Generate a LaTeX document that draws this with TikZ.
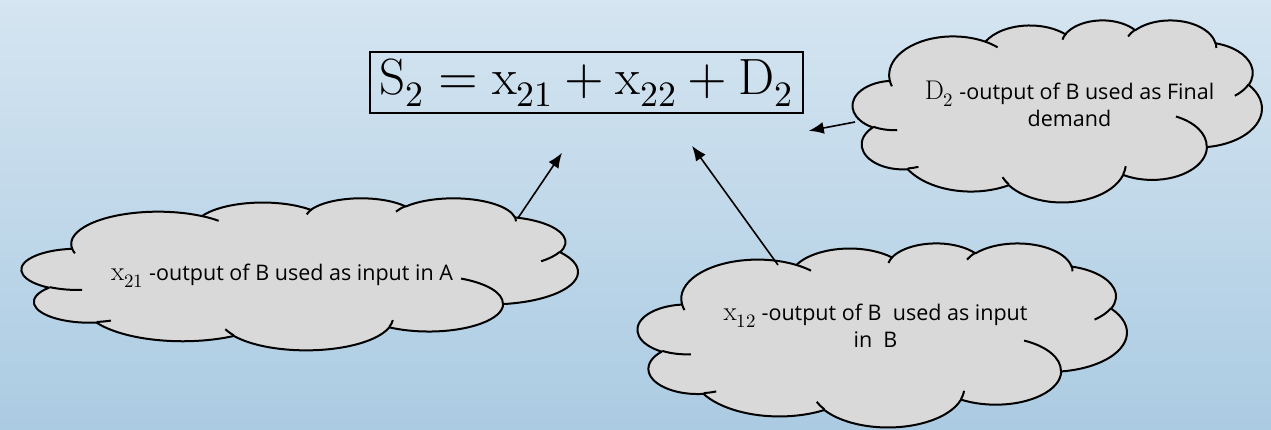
\documentclass[tikz,border=0pt]{standalone}
\usepackage{fontspec}
\usepackage{unicode-math}
\setmathfont{Latin Modern Math}
\newfontfamily\cloudfont{Open Sans}
\usetikzlibrary{calc,arrows.meta}

\definecolor{bgtop}{HTML}{D5E5F1}
\definecolor{bgbot}{HTML}{ABCBE2}
\definecolor{cloudgray}{HTML}{D9D9D9}

% upright math, set a bit larger than the sans text
\newcommand\cmath[1]{{\fontsize{27}{28}\selectfont$#1$}}

% cloud outline: angles on the ellipse as seen from its centre -> parameter angles
\pgfmathdeclarefunction{vispar}{3}{\pgfmathparse{atan2((#1)*sin(#3),(#2)*cos(#3))}}
\pgfmathdeclarefunction{parsweep}{4}{%
  \pgfmathparse{#4+mod(vispar(#1,#2,#3+#4)-vispar(#1,#2,#3)-#4+1260,360)-180}}

\begin{document}
\begin{tikzpicture}[x=1pt,y=1pt,
  cloudbox/.style={rectangle, inner sep=0pt},
  cloudline/.style={line width=2pt, line join=round},
  cloudtext/.style={font=\cloudfont\fontsize{21.5}{27}\selectfont, align=center, inner sep=0pt},
  pointer/.style={-{Latex[length=15pt,width=12pt]}, line width=1.6pt}]
\shade[top color=bgtop, bottom color=bgbot] (0,0) rectangle (1271,-429);
\useasboundingbox (0,0) rectangle (1271,-429);

\node[draw, line width=1.6pt, minimum width=433pt, minimum height=61pt, inner sep=0pt,
  font=\fontsize{51}{60}\selectfont] (supply) at (586.5,-82.5)
  {$\mathrm{S}_2 = \mathrm{x}_{21} + \mathrm{x}_{22} + \mathrm{D}_2$};

\node[cloudbox, minimum width=556pt, minimum height=152pt] (cloudA) at (300,-274) {};
\node[cloudbox, minimum width=409pt, minimum height=182pt] (cloudD) at (1057.5,-111) {};
\node[cloudbox, minimum width=489pt, minimum height=184pt] (cloudB) at (882.5,-335) {};

% the clouds, in a 432 x 432 grid stretched over each node
\foreach \cl/\W/\H in {cloudA/556/152, cloudD/409/182, cloudB/489/184} {
  \filldraw[cloudline, fill=cloudgray] ($(\cl.north west)+(39.00/432*\W,-143.70/432*\H)$)
    \foreach \wr/\hr/\st/\sw in {67.53/91.90/-190.4875/123.7805, 53.33/72.67/-144.1024/89.9452,
        43.65/59.45/-145.8079/99.7230, 48.57/65.95/-130.9861/117.2417,
        53.33/72.73/-78.7089/109.0269, 67.75/92.20/-46.2673/130.2690,
        57.85/78.67/0.6250/114.0333, 67.52/92.15/22.4516/115.1726,
        77.20/105.43/66.2426/75.7110, 43.60/59.18/-274.9421/146.7356,
        43.45/59.45/-246.8285/152.5189} {
      arc[start angle={-vispar(\wr,\hr,\st)}, delta angle={-parsweep(\wr,\hr,\st,\sw)},
        x radius={\wr/432*\W*1pt}, y radius={\hr/432*\H*1pt}]
    } -- cycle;
  \foreach \px/\py/\wr/\hr/\st/\sw in {46.93/261.77/43.45/59.45/86.7420/26.4295,
      69.28/348.99/43.60/59.18/73.6105/11.4475, 164.78/390.90/67.52/92.15/137.6242/14.0811,
      288.27/347.51/67.52/92.15/6.4533/15.9984, 341.29/229.54/57.85/78.67/-70.2924/70.9174,
      417.98/153.54/53.33/72.73/30.3180/27.7515, 383.24/54.26/48.57/65.95/-13.7443/14.8576,
      290.78/39.52/48.57/65.95/-149.1815/18.1842, 221.41/47.20/43.65/59.45/-163.4943/17.6981,
      140.00/51.92/67.53/91.90/-66.7070/12.3194, 41.27/157.89/67.53/91.90/157.6544/11.8582}
    \draw[cloudline] ($(\cl.north west)+(\px/432*\W,-\py/432*\H)$)
      arc[start angle={-vispar(\wr,\hr,\st)}, delta angle={-parsweep(\wr,\hr,\st,\sw)},
        x radius={\wr/432*\W*1pt}, y radius={\hr/432*\H*1pt}];
}

\node[cloudtext] (textA) at ([xshift=-18pt,yshift=-2pt]cloudA.center)
  {\cmath{\mathrm{x}_{21}} -output of B used as input in A};
\node[cloudtext] (textD) at ([xshift=12pt,yshift=7pt]cloudD.center)
  {\cmath{\mathrm{D}_2} -output of B used as Final\\demand};
\node[cloudtext] (textB) at ([xshift=-7pt,yshift=9pt]cloudB.center)
  {\cmath{\mathrm{x}_{12}} -output of B\ \ used as input\\in\ \ B};

\coordinate (tipA) at ([xshift=-24.5pt,yshift=-39pt]supply.south);
\coordinate (tipB) at ([xshift=105.5pt,yshift=-32pt]supply.south);
\coordinate (tipD) at ([xshift=5pt,yshift=-17pt]supply.south east);

\draw[pointer] ([xshift=218pt,yshift=56pt]cloudA.center) -- (tipA);
\draw[pointer] ([xshift=-104.5pt,yshift=70pt]cloudB.center) -- (tipB);
\draw[pointer] ([xshift=-202.5pt,yshift=-11pt]cloudD.center) -- (tipD);
\end{tikzpicture}
\end{document}
